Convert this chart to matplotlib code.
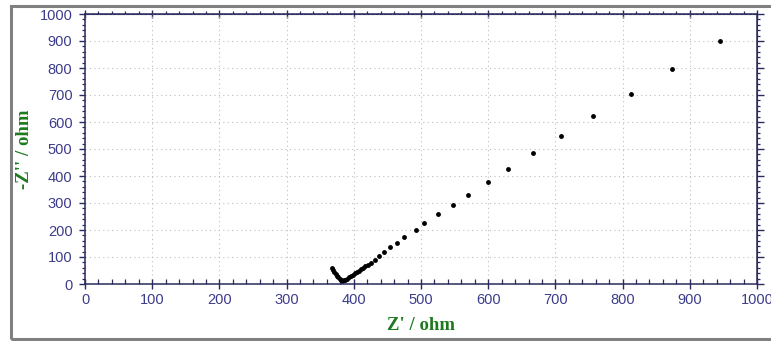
import matplotlib
matplotlib.use("Agg")
import matplotlib.pyplot as plt
from matplotlib.patches import Rectangle
from matplotlib.ticker import MultipleLocator

# impedance spectrum, Nyquist form
z_real = [945, 873, 812, 756, 709, 667, 630, 599, 570, 547, 525, 505, 492, 475,
          465, 454, 445, 438, 431, 426, 421, 417, 414, 411, 408, 405, 402, 399,
          396, 393, 390, 387, 385, 383, 381, 379, 377, 375, 373, 371, 369, 367]
z_imag = [900, 798, 705, 623, 550, 486, 427, 378, 331, 292, 258, 226, 200, 174,
          152, 136, 118, 104, 88, 79, 71, 65, 60, 55, 50, 45, 40, 35,
          30, 25, 20, 16, 13, 12, 15, 20, 25, 31, 37, 44, 51, 58]

axis_color = "#2b2b5e"
label_color = "#3c3c8c"
title_green = "#1f7a1f"

plt.rcParams["font.family"] = ["Liberation Sans", "DejaVu Sans"]

fig = plt.figure(figsize=(7.71, 3.41), dpi=100)
ax = fig.add_axes([85 / 771, 1 - 284 / 341, 672 / 771, 270 / 341])

ax.plot(z_real, z_imag, "o", color="black", markersize=3.5, markeredgewidth=0)

ax.set_xlim(0, 1000)
ax.set_ylim(0, 1000)
ax.xaxis.set_major_locator(MultipleLocator(100))
ax.yaxis.set_major_locator(MultipleLocator(100))
ax.xaxis.set_minor_locator(MultipleLocator(20))
ax.yaxis.set_minor_locator(MultipleLocator(20))

ax.grid(True, which="major", color="#bdbdbd", linestyle=(0, (1, 3)), linewidth=0.8)

for sp in ax.spines.values():
    sp.set_color(axis_color)
    sp.set_linewidth(1.1)

ax.tick_params(axis="x", which="major", direction="inout", length=7, width=1,
               color=axis_color, labelcolor=label_color, labelsize=10.5, pad=3)
ax.tick_params(axis="x", which="minor", direction="in", length=3.5, width=0.9,
               color=axis_color)
ax.tick_params(axis="y", which="major", direction="out", length=4, width=1,
               color=axis_color, labelcolor=label_color, labelsize=10.5, pad=5)
ax.tick_params(axis="y", which="minor", direction="out", length=2.5, width=0.9,
               color=axis_color)

# outward ticks on top and right edges
top = ax.secondary_xaxis("top")
top.xaxis.set_major_locator(MultipleLocator(100))
top.xaxis.set_minor_locator(MultipleLocator(20))
top.tick_params(which="major", direction="inout", length=6, width=1, color=axis_color,
                labeltop=False)
top.tick_params(which="minor", direction="out", length=2.5, width=0.9, color=axis_color)
top.spines["top"].set_color(axis_color)

right = ax.secondary_yaxis("right")
right.yaxis.set_major_locator(MultipleLocator(100))
right.yaxis.set_minor_locator(MultipleLocator(20))
right.tick_params(which="major", direction="out", length=5, width=1, color=axis_color,
                  labelright=False)
right.tick_params(which="minor", direction="out", length=2.5, width=0.9, color=axis_color)
right.spines["right"].set_color(axis_color)

ax.set_xlabel("Z' / ohm", family="Liberation Serif", fontweight="bold",
              fontsize=13.5, color=title_green, labelpad=7)
ax.set_ylabel("-Z'' / ohm", family="Liberation Serif", fontweight="bold",
              fontsize=13.5, color=title_green)
ax.yaxis.set_label_coords(-0.077, 0.5)

# grey frame round the figure
fig.patches.append(Rectangle((10.5 / 771, (341 - 338.5) / 341), 800 / 771, 332.5 / 341,
                             transform=fig.transFigure, fill=False,
                             edgecolor="#808080", linewidth=2.2))

fig.savefig("out.png", dpi=100)
